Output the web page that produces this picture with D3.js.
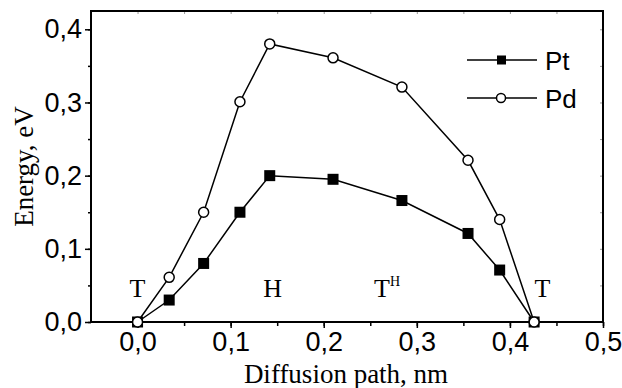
<!DOCTYPE html>
<html><head><meta charset="utf-8">
<script src="https://cdn.jsdelivr.net/npm/d3@7"></script>
<style>body{margin:0;background:#fff}svg{display:block}</style>
</head><body>
<svg id="c" width="622" height="388"></svg>
<script>
const pathX = [0, 0.034, 0.071, 0.110, 0.142, 0.210, 0.284, 0.355, 0.389, 0.426];
const ptE = [0, 0.030, 0.080, 0.150, 0.200, 0.195, 0.166, 0.121, 0.071, 0];
const pdE = [0, 0.061, 0.150, 0.301, 0.380, 0.361, 0.321, 0.221, 0.140, 0];
const xTicks = [0, 0.1, 0.2, 0.3, 0.4, 0.5];
const yTicks = [0, 0.1, 0.2, 0.3, 0.4];
const siteLabels = [
  {x: 0, y: 0.034, t: "T", sup: ""},
  {x: 0.145, y: 0.034, t: "H", sup: ""},
  {x: 0.268, y: 0.034, t: "T", sup: "H"},
  {x: 0.435, y: 0.034, t: "T", sup: ""}
];
const seriesNames = ["Pt", "Pd"];

const svg = d3.select("#c");
const L = 91, T = 11, R = 603, B = 322;
const x = d3.scaleLinear().domain([-0.05, 0.5]).range([L, R]);
const y = d3.scaleLinear().domain([0, 0.425]).range([B, T]);
const fmt = d => d3.format(".1f")(d).replace(".", ",");
const sans = "Liberation Sans, Arial, sans-serif";
const serif = "Liberation Serif, Times New Roman, serif";

// minor ticks top/right inward
const minorX = d3.range(-0.05, 0.5001, 0.05);
const minorY = d3.range(0, 0.4251, 0.05);
svg.append("g").attr("transform", `translate(0,${T})`)
  .call(d3.axisBottom(x).tickValues(minorX.filter(v => v > -0.049 && v < 0.499)).tickSize(3).tickFormat(""))
  .call(g => g.select(".domain").remove())
  .call(g => g.selectAll("line").attr("stroke", "#999").attr("stroke-width", 1));
svg.append("g").attr("transform", `translate(${R},0)`)
  .call(d3.axisLeft(y).tickValues(minorY.filter(v => v > 0.001)).tickSize(3).tickFormat(""))
  .call(g => g.select(".domain").remove())
  .call(g => g.selectAll("line").attr("stroke", "#999").attr("stroke-width", 1));

// bottom axis
const gx = svg.append("g").attr("transform", `translate(0,${B})`);
gx.call(d3.axisBottom(x).tickValues(minorX.filter(v => v > -0.049)).tickSize(4).tickFormat(""))
  .call(g => g.select(".domain").remove())
  .call(g => g.selectAll("line").attr("stroke", "#000").attr("stroke-width", 1.5));
gx.append("g").call(d3.axisBottom(x).tickValues(xTicks).tickSize(6).tickFormat(fmt).tickPadding(4))
  .call(g => g.select(".domain").remove())
  .call(g => g.selectAll("line").attr("stroke", "#000").attr("stroke-width", 1.5))
  .call(g => g.selectAll("text").attr("font-family", sans).attr("font-size", 27).attr("fill", "#000"));

// left axis
const gy = svg.append("g").attr("transform", `translate(${L},0)`);
gy.call(d3.axisLeft(y).tickValues(minorY).tickSize(3).tickFormat(""))
  .call(g => g.select(".domain").remove())
  .call(g => g.selectAll("line").attr("stroke", "#000").attr("stroke-width", 1.5));
gy.append("g").call(d3.axisLeft(y).tickValues(yTicks).tickSize(6).tickFormat(fmt).tickPadding(3))
  .call(g => g.select(".domain").remove())
  .call(g => g.selectAll("line").attr("stroke", "#000").attr("stroke-width", 1.5))
  .call(g => g.selectAll("text").attr("font-family", sans).attr("font-size", 27).attr("fill", "#000"));

// frame
svg.append("rect").attr("x", L).attr("y", T).attr("width", R - L).attr("height", B - T)
  .attr("fill", "none").attr("stroke", "#000").attr("stroke-width", 2);

// lines
const line = d3.line().x((d, i) => x(pathX[i])).y(d => y(d));
[ptE, pdE].forEach(s => svg.append("path").datum(s).attr("d", line)
  .attr("fill", "none").attr("stroke", "#000").attr("stroke-width", 1.5));

// markers
svg.selectAll(".pt").data(ptE).join("rect")
  .attr("x", (d, i) => x(pathX[i]) - 5.5).attr("y", d => y(d) - 5.5)
  .attr("width", 11).attr("height", 11).attr("fill", "#000");
svg.selectAll(".pd").data(pdE).join("circle")
  .attr("cx", (d, i) => x(pathX[i])).attr("cy", d => y(d)).attr("r", 5)
  .attr("fill", "#fff").attr("stroke", "#000").attr("stroke-width", 1.5);

// site labels
siteLabels.forEach(l => {
  const t = svg.append("text").attr("x", x(l.x)).attr("y", y(l.y))
    .attr("font-family", serif).attr("font-size", 26).attr("text-anchor", "middle").text(l.t);
  if (l.sup) t.append("tspan").attr("font-size", 14).attr("dy", -11).text(l.sup);
});

// legend
seriesNames.forEach((n, i) => {
  const yy = 60 + i * 38;
  svg.append("line").attr("x1", 467).attr("x2", 537).attr("y1", yy).attr("y2", yy)
    .attr("stroke", "#000").attr("stroke-width", 1.5);
  if (i === 0) svg.append("rect").attr("x", 497).attr("y", yy - 4.5).attr("width", 9).attr("height", 9).attr("fill", "#000");
  else svg.append("circle").attr("cx", 501).attr("cy", yy).attr("r", 4.5).attr("fill", "#fff").attr("stroke", "#000").attr("stroke-width", 1.5);
  svg.append("text").attr("x", 545).attr("y", yy + 9.5).attr("font-family", sans).attr("font-size", 26).text(n);
});

// axis titles
svg.append("text").attr("x", 346).attr("y", 383).attr("text-anchor", "middle")
  .attr("font-family", serif).attr("font-size", 27).text("Diffusion path, nm");
svg.append("text").attr("transform", `translate(33,${(T + B) / 2}) rotate(-90)`).attr("text-anchor", "middle")
  .attr("font-family", serif).attr("font-size", 27).text("Energy, eV");
</script>
</body></html>
